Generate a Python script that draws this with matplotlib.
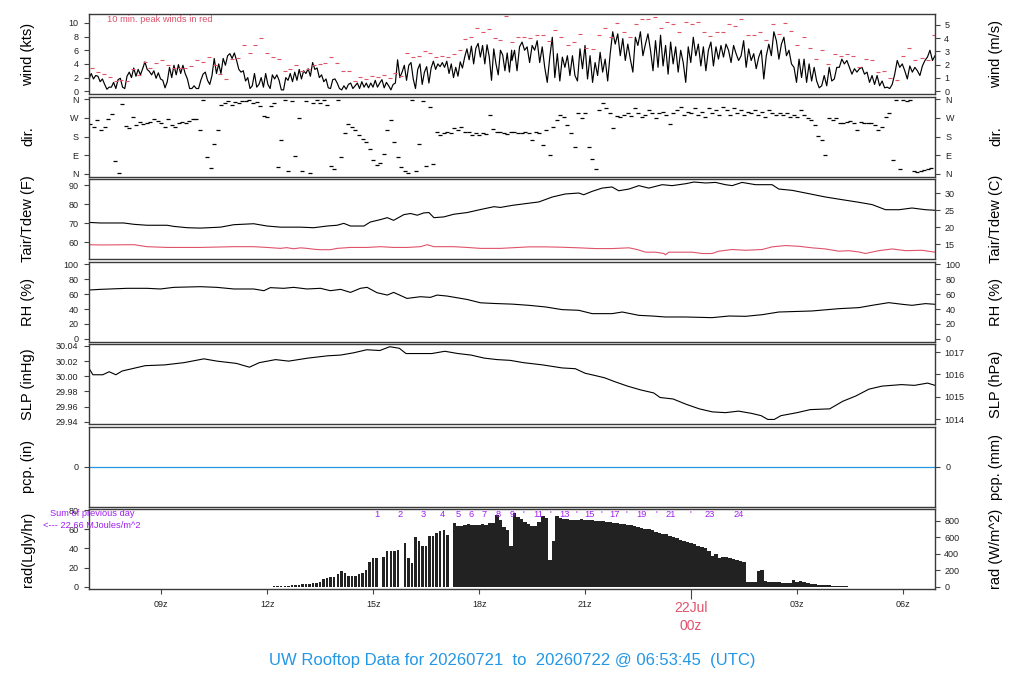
import matplotlib
matplotlib.use("Agg")
import matplotlib.pyplot as plt
import numpy as np

plt.rcParams['font.family'] = ['Liberation Sans', 'DejaVu Sans']

RED = '#DF536B'
BLUE = '#2297E6'
PURPLE = '#A020F0'

# ===== Data (hours since 00z 21 Jul) =====
t_start, t_mid, t_end = 6.96, 18.93, 30.9

# wind speed (kts), evenly spaced readings, 07z-19z and 19z-07z
wind_am = [1.8, 2.6, 1.8, 2.3, 2.2, 1.4, 1.8, 1.0, 0.3, 0.6, 0.6, 1.3, 0.4, 1.7, 1.9, 0.6, 0.4, 2.2, 2.8, 2.0,
           3.4, 2.2, 3.2, 2.4, 3.3, 4.3, 3.2, 2.9, 2.4, 3.0, 1.9, 2.7, 1.8, 1.6, 0.5, 1.4, 3.5, 2.0, 3.8, 2.4,
           3.9, 2.6, 3.8, 2.6, 1.8, 0.4, 0.4, 0.8, 0.4, 0.4, 1.6, 2.5, 2.8, 1.6, 1.0, 2.3, 4.8, 2.6, 4.0, 2.6,
           4.8, 3.8, 5.2, 5.5, 4.8, 5.6, 4.5, 3.2, 2.8, 3.0, 1.5, 2.0, 0.4, 0.8, 2.6, 0.6, 1.0, 2.0, 0.6, 2.6,
           1.0, 0.4, 2.4, 1.8, 2.4, 1.6, 0.2, 0.2, 2.0, 1.6, 2.6, 1.4, 2.8, 1.6, 3.2, 1.8, 3.0, 2.6, 3.3, 2.2,
           4.2, 3.2, 3.4, 2.0, 2.4, 1.4, 1.8, 0.5, 0.4, 1.7, 1.8, 1.2, 0.4, 0.2, 0.8, 0.3, 1.0, 1.2, 0.4, 0.8,
           1.2, 0.4, 1.4, 0.6, 1.2, 0.5, 1.2, 0.6, 1.6, 0.6, 1.2, 1.7, 0.5, 1.3, 0.8, 0.2, 1.0, 1.2, 4.6, 2.0,
           2.8, 3.8, 1.6, 3.8, 4.2, 1.8, 0.4, 3.2, 4.0, 1.0, 2.8, 3.6, 1.2, 3.4, 4.4, 3.2, 4.0, 3.6, 4.2, 3.5,
           4.4, 2.6, 4.0, 2.0, 3.5, 2.2, 4.3, 3.4, 5.0, 6.2, 4.6, 6.6, 4.0, 6.3, 7.0, 5.0, 6.7, 4.0, 6.8, 5.0,
           1.6, 6.2, 4.0, 2.4, 6.0, 5.3, 3.0, 5.6, 2.8, 6.0]
wind_pm = [4.5, 6.0, 3.0, 6.5, 7.2, 6.0, 6.5, 4.2, 6.7, 6.0, 7.4, 4.2, 6.5, 3.5, 1.3, 5.0, 7.9, 2.0, 5.5, 1.5,
           5.0, 3.5, 5.2, 2.3, 5.2, 2.3, 1.5, 6.2, 3.3, 6.7, 1.8, 5.2, 1.3, 4.2, 2.3, 5.7, 2.8, 4.7, 1.5, 5.5,
           8.7, 6.9, 8.4, 5.2, 7.7, 4.5, 6.9, 4.7, 2.8, 7.9, 6.7, 8.7, 5.2, 6.9, 8.4, 6.0, 3.0, 7.4, 3.5, 8.2,
           3.7, 6.7, 2.5, 7.2, 4.0, 6.5, 2.8, 6.0, 4.2, 1.3, 6.5, 4.2, 7.9, 5.2, 6.9, 3.7, 6.5, 3.0, 6.0, 7.2,
           3.7, 6.5, 4.7, 6.7, 5.0, 6.9, 6.0, 4.2, 6.7, 5.5, 4.5, 5.2, 7.4, 3.5, 6.2, 4.5, 5.5, 3.3, 5.0, 6.0,
           1.8, 5.2, 6.9, 5.2, 8.7, 7.4, 4.7, 6.9, 7.9, 5.2, 6.0, 4.0, 3.5, 1.3, 4.7, 2.0, 4.7, 1.3, 4.0, 1.5,
           3.5, 1.5, 0.5, 0.8, 2.3, 0.8, 3.5, 1.5, 1.8, 3.5, 3.5, 4.7, 4.0, 4.5, 3.5, 2.5, 3.3, 2.8, 3.3, 3.5,
           2.5, 2.8, 1.3, 2.3, 1.0, 2.3, 0.8, 1.5, 0.5, 0.6, 0.4, 1.0, 2.5, 4.5, 3.5, 4.0, 3.0, 1.8, 3.7, 2.8,
           3.5, 3.0, 2.3, 3.7, 4.5, 5.0, 6.0, 4.5, 5.2]

# 10 minute peak winds (kts)
peak_am = [3.4, 2.8, 2.5, 2.1, 1.5, 1.6, 1.5, 3.2, 2.4, 4.3, 3.4, 4.1, 4.6, 3.9, 3.4, 3.4, 3.4, 3.7, 4.5, 4.3,
           5.0, 3.9, 2.5, 1.8, 4.7, 4.9, 6.7, 5.6, 6.8, 7.8, 5.6, 5.0, 4.7, 2.9, 3.3, 3.8, 3.0, 3.3, 3.8, 4.0,
           4.2, 5.0, 4.2, 2.9, 2.9, 1.5, 2.1, 1.8, 2.3, 2.1, 2.4, 1.9, 2.6, 2.3, 5.6, 5.0, 5.2, 5.9, 5.6, 5.0,
           5.2, 5.0, 5.5, 6.1, 7.7, 7.9, 9.3, 8.6, 9.1, 7.8, 7.5, 11.0, 7.2]
peak_pm = [7.9, 7.9, 7.8, 8.2, 8.2, 7.4, 9.0, 8.0, 6.7, 7.2, 8.4, 6.3, 6.2, 8.2, 9.3, 8.0, 10.0, 8.6, 8.0, 9.9,
           10.5, 10.5, 10.8, 9.3, 10.1, 9.8, 8.6, 10.1, 9.9, 10.1, 8.7, 8.1, 8.6, 8.6, 9.8, 9.5, 10.5, 8.2, 8.2,
           8.6, 7.5, 9.8, 8.4, 10.0, 8.8, 6.8, 8.0, 6.4, 4.7, 6.1, 4.0, 5.4, 5.2, 5.4, 5.2, 3.5, 4.7, 4.6, 2.8,
           2.9, 1.9, 1.7, 5.2, 6.4, 4.6, 4.9, 4.5, 8.2]

# wind direction (deg), every 6 min from 07z
dir_deg = [240, 228, 262, 212, 225, 265, 290, 62, 4, 335,
           230, 222, 276, 236, 248, 240, 244, 252, 266, 256,
           244, 228, 266, 236, 228, 246, 250, 246, 256, 266,
           265, 212, 358, 80, 30, 145, 210, 333, 342, 349,
           330, 348, 340, 350, 353, 356, 340, 348, 325, 278,
           275, 325, 342, 32, 162, 356, 12, 350, 88, 268,
           12, 350, 3, 342, 356, 340, 355, 330, 40, 24,
           357, 80, 195, 240, 226, 212, 186, 170, 154, 120,
           65, 42, 50, 97, 211, 260, 155, 82, 32, 14,
           6, 357, 12, 146, 349, 40, 322, 48, 203, 188,
           196, 204, 196, 220, 210, 228, 203, 200, 188, 196,
           188, 196, 194, 284, 218, 203, 200, 196, 194, 204,
           200, 195, 198, 203, 195, 165, 203, 198, 138, 210,
           89, 228, 260, 284, 276, 235, 196, 130, 292, 268,
           292, 130, 73, 24, 308, 340, 318, 292, 220, 280,
           276, 286, 292, 278, 316, 292, 276, 284, 308, 292,
           268, 292, 300, 284, 242, 292, 308, 324, 284, 300,
           292, 316, 284, 300, 276, 316, 292, 308, 284, 324,
           308, 284, 316, 292, 308, 284, 300, 292, 310, 284,
           300, 276, 308, 292, 284, 292, 284, 292, 276, 284,
           276, 306, 284, 268, 260, 235, 182, 162, 89, 268,
           260, 268, 244, 246, 252, 256, 246, 212, 250, 246,
           243, 246, 235, 211, 227, 276, 292, 65, 357, 24,
           357, 352, 357, 14, 8, 13, 19, 24, 29]

# air temperature (F)
tair_t = [6.96, 7.28, 7.94, 8.23, 8.60, 9.17, 9.36, 9.74, 10.11, 10.68, 11.06, 11.62, 12.00, 12.38, 12.94,
          13.32, 13.70, 13.98, 14.17, 14.36, 14.74, 14.92, 15.21, 15.40, 15.58, 15.87, 16.06, 16.25, 16.43,
          16.58, 16.72, 17.00, 17.28, 17.66, 18.04, 18.42, 18.60, 18.94, 19.31, 19.69, 20.07, 20.44, 20.82,
          20.96, 21.20, 21.48, 21.76, 21.95, 22.24, 22.52, 22.80, 23.18, 23.46, 23.84, 24.08, 24.41, 24.69,
          24.97, 25.16, 25.44, 25.82, 26.29, 26.48, 26.86, 27.24, 27.80, 28.27, 28.75, 29.12, 29.50, 29.88,
          30.25, 30.63, 30.90]
tair_f = [70.5, 70.2, 70.2, 69.5, 69.0, 69.0, 68.4, 67.7, 67.5, 68.0, 69.3, 69.8, 68.6, 68.0, 68.0,
          67.7, 68.6, 69.0, 70.0, 68.6, 68.6, 70.7, 72.0, 73.0, 71.6, 74.6, 75.2, 74.3, 75.5,
          75.7, 73.0, 73.4, 74.8, 75.7, 77.3, 78.8, 78.4, 79.5, 80.4, 81.3, 83.9, 85.5, 86.0,
          85.1, 86.9, 88.6, 89.2, 87.2, 88.1, 89.9, 88.6, 90.4, 89.9, 90.9, 91.8, 91.3, 91.6,
          90.4, 89.9, 91.6, 90.4, 90.4, 88.1, 87.4, 86.0, 83.9, 82.5, 81.1, 79.9, 77.2, 77.2,
          78.1, 77.2, 76.9]

# dew point (F)
tdew_t = [6.96, 7.28, 8.23, 8.60, 9.17, 10.11, 11.06, 11.62, 12.00, 12.38, 12.55, 12.75, 12.95, 13.13, 13.35,
          13.51, 13.79, 13.98, 14.36, 14.83, 15.21, 15.58, 15.96, 16.34, 16.53, 16.72, 17.28, 17.66, 18.04,
          18.60, 19.41, 19.88, 20.35, 20.82, 21.29, 21.76, 22.24, 22.47, 22.71, 22.99, 23.23, 23.27, 23.37,
          23.65, 24.03, 24.31, 24.59, 24.78, 25.16, 25.54, 26.01, 26.29, 26.67, 27.05, 27.42, 27.80, 28.18,
          28.46, 28.75, 28.93, 29.31, 29.69, 30.07, 30.54, 30.90]
tdew_f = [58.75, 58.6, 58.75, 57.7, 57.3, 57.3, 57.7, 57.7, 57.3, 56.8, 57.2, 56.6, 57.1, 56.8, 56.3,
          56.1, 56.1, 56.8, 57.3, 57.3, 57.7, 57.3, 57.3, 57.7, 58.75, 57.7, 57.7, 57.3, 56.8,
          56.8, 57.6, 57.6, 57.4, 57.1, 56.7, 56.7, 57.1, 56.2, 54.8, 54.8, 54.1, 53.4, 54.8,
          54.8, 54.8, 54.1, 54.1, 55.3, 56.2, 55.8, 56.2, 57.6, 58.3, 57.9, 57.1, 56.5, 55.3,
          55.6, 54.9, 54.1, 55.6, 56.5, 55.6, 55.8, 54.8]

# relative humidity (%)
rh_t = [6.96, 7.28, 8.04, 8.60, 8.98, 9.36, 10.11, 10.58, 11.06, 11.62, 11.91, 12.09, 12.47, 12.75, 13.13,
        13.51, 13.79, 14.08, 14.36, 14.64, 14.83, 15.11, 15.40, 15.58, 15.96, 16.34, 16.62, 16.81, 17.09,
        17.66, 18.04, 18.42, 18.94, 19.41, 19.88, 20.35, 20.82, 21.20, 21.76, 22.05, 22.52, 22.90, 23.27,
        23.84, 24.59, 25.07, 25.54, 26.01, 26.48, 27.42, 28.18, 28.75, 29.12, 29.59, 29.97, 30.25, 30.63,
        30.90]
rh = [65.6, 66.5, 67.9, 67.9, 67.0, 69.2, 70.1, 69.2, 67.0, 67.0, 64.7, 68.8, 67.9, 69.2, 67.0,
      67.9, 64.7, 66.5, 62.4, 67.9, 69.2, 62.0, 58.8, 62.4, 54.3, 56.6, 55.7, 58.8, 57.5,
      52.9, 48.4, 47.5, 46.6, 45.0, 42.8, 39.2, 38.3, 33.8, 33.8, 36.0, 31.5, 30.6, 29.3,
      29.3, 28.4, 30.6, 30.2, 32.4, 36.0, 37.4, 40.5, 41.9, 45.0, 48.6, 46.4, 45.0, 47.3,
      46.4]

# sea level pressure (inHg)
slp_t = [6.98, 7.07, 7.35, 7.53, 7.72, 7.90, 8.18, 8.55, 9.10, 9.65, 10.21, 10.58, 11.13, 11.50, 11.78,
         12.24, 12.61, 13.16, 13.71, 14.08, 14.45, 14.82, 15.19, 15.47, 15.74, 15.93, 16.30, 16.66, 17.03,
         17.40, 17.77, 18.14, 18.51, 18.88, 19.25, 19.80, 20.35, 20.72, 21.00, 21.28, 21.55, 21.83, 22.20,
         22.57, 22.94, 23.12, 23.49, 23.86, 24.23, 24.60, 24.97, 25.34, 25.71, 25.98, 26.17, 26.35, 26.54,
         27.00, 27.37, 27.92, 28.29, 28.66, 29.03, 29.40, 29.95, 30.32, 30.69, 30.90]
slp = [30.009, 30.002, 30.002, 30.006, 30.002, 30.007, 30.010, 30.014, 30.015, 30.018, 30.023, 30.020,
       30.017, 30.012, 30.018, 30.022, 30.020, 30.024, 30.027, 30.028, 30.031, 30.035, 30.034, 30.039,
       30.037, 30.030, 30.030, 30.030, 30.033, 30.030, 30.028, 30.024, 30.022, 30.021, 30.018, 30.015,
       30.011, 30.010, 30.004, 30.001, 29.998, 29.993, 29.987, 29.982, 29.978, 29.972, 29.970, 29.963,
       29.957, 29.953, 29.952, 29.954, 29.951, 29.948, 29.943, 29.943, 29.948, 29.952, 29.956, 29.957,
       29.967, 29.974, 29.983, 29.987, 29.989, 29.988, 29.991, 29.988]

# precipitation (in)
pcp_t = [t_start, t_end]
pcp_in = [0.0, 0.0]

# solar radiation (W/m^2), every 6 min from 12.2z
rad_w = [3, 5, 7, 9, 11, 14, 18, 22,
         27, 31, 35, 38, 42, 60, 98, 108, 116, 122,
         150, 190, 160, 135, 128, 130, 148, 160, 205, 305,
         345, 350, 0, 360, 430, 432, 440, 452, 0, 530,
         350, 290, 600, 550, 500, 490, 615, 612, 650, 672,
         690, 630, 0, 775, 735, 740, 745, 765, 750, 752,
         755, 760, 752, 780, 770, 870, 810, 730, 695, 490,
         900, 850, 820, 790, 760, 740, 738, 790, 860, 840,
         330, 560, 865, 840, 830, 822, 818, 815, 812, 830,
         812, 808, 806, 804, 800, 795, 790, 785, 779, 775,
         768, 760, 752, 745, 738, 730, 720, 707, 697, 685,
         670, 658, 645, 636, 620, 605, 590, 574, 560, 545,
         530, 515, 500, 485, 468, 440, 375, 392, 352, 365,
         355, 348, 338, 325, 315, 300, 60, 60, 58, 195,
         197, 65, 58, 56, 54, 53, 50, 48, 45, 82,
         62, 70, 60, 41, 35, 29, 24, 20, 16, 14,
         12, 11, 10, 8, 5]

# cumulative MJ/m^2 markers
mj_t = [15.12, 15.77, 16.42, 16.96, 17.41, 17.78, 18.15, 18.54, 18.94, 19.24, 19.66, 20.03,
        20.40, 20.76, 21.12, 21.47, 21.83, 22.18, 22.58, 23.01, 23.43, 23.97, 24.53, 25.35]
mj_lab = ['1', '2', '3', '4', '5', '6', '7', '8', '9', "'", '11', "'",
          '13', "'", '15', "'", '17', "'", '19', "'", '21', "'", '23', '24']

KT2MS = 0.514444
LY2W = 11.622
INHG2HPA = 33.8639

# ===== times =====
t_wind = np.concatenate([np.linspace(t_start, t_mid - 0.01, len(wind_am)),
                         np.linspace(t_mid, t_end, len(wind_pm))])
wind = wind_am + wind_pm
t_peak = np.concatenate([np.linspace(7.05, t_mid, len(peak_am)),
                         np.linspace(19.1, 30.87, len(peak_pm))])
peaks = peak_am + peak_pm
t_dir = 7.0 + 0.1 * np.arange(len(dir_deg))
t_rad = 12.2 + 0.1 * np.arange(len(rad_w))

# ===== Layout =====
fig = plt.figure(figsize=(10.24, 7.0), dpi=100)
FW, FH = 1024.0, 700.0
LEFT, RIGHT = 89, 935
TOPS = [14, 96.5, 179, 261.5, 344, 426.5, 509]
PH = 80
TK = dict(direction='out', length=3.6, width=0.8, labelsize=6.5, color='#444444', labelcolor='#222222')


def panel(top):
    ax = fig.add_axes([LEFT / FW, 1 - (top + PH) / FH, (RIGHT - LEFT) / FW, PH / FH])
    ax.set_xlim(t_start, t_end)
    ax.tick_params(axis='x', bottom=False, labelbottom=False)
    ax.tick_params(axis='y', pad=4, **TK)
    for s in ax.spines.values():
        s.set_color('#3a3a3a')
        s.set_linewidth(1.0)
    return ax


def right_axis(ax, lo, hi, ticks):
    axr = ax.twinx()
    axr.set_ylim(lo, hi)
    axr.set_yticks(ticks)
    axr.tick_params(axis='y', pad=3, **TK)
    for s in axr.spines.values():
        s.set_visible(False)
    return axr


def names(ax, left, right):
    ax.text(-0.072, 0.5, left, transform=ax.transAxes, rotation=90, ha='center', va='center', fontsize=10.5)
    ax.text(1.072, 0.5, right, transform=ax.transAxes, rotation=90, ha='center', va='center', fontsize=10.5)


# wind
ax = panel(TOPS[0])
ax.plot(t_wind, wind, color='black', lw=0.85)
ax.plot(t_peak, peaks, ls='none', marker='_', ms=3.5, mew=0.8, color=RED)
ax.set_ylim(-0.4, 11.3)
ax.set_yticks(range(0, 11, 2))
right_axis(ax, -0.4 * KT2MS, 11.3 * KT2MS, range(0, 6))
ax.text(0.021, 0.935, '10 min. peak winds in red', transform=ax.transAxes, color=RED, fontsize=6.7, va='center')
names(ax, 'wind (kts)', 'wind (m/s)')

# direction
ax = panel(TOPS[1])
ax.plot(t_dir, dir_deg, ls='none', marker='_', ms=3.5, mew=0.9, color='black')
ax.set_ylim(-13, 373)
ax.set_yticks([0, 90, 180, 270, 360])
ax.set_yticklabels(['N', 'E', 'S', 'W', 'N'])
ax.tick_params(axis='y', right=True, labelright=True)
names(ax, 'dir.', 'dir.')

# temperature / dew point
ax = panel(TOPS[2])
ax.plot(tair_t, tair_f, color='black', lw=0.8)
ax.plot(tdew_t, tdew_f, color=RED, lw=0.8)
ax.set_ylim(51.2, 93.4)
ax.set_yticks([60, 70, 80, 90])
right_axis(ax, (51.2 - 32) / 1.8, (93.4 - 32) / 1.8, [15, 20, 25, 30])
names(ax, 'Tair/Tdew (F)', 'Tair/Tdew (C)')

# relative humidity
ax = panel(TOPS[3])
ax.plot(rh_t, rh, color='black', lw=0.8)
ax.set_ylim(-3.7, 104)
ax.set_yticks(range(0, 101, 20))
ax.tick_params(axis='y', right=True, labelright=True)
names(ax, 'RH (%)', 'RH (%)')

# pressure
ax = panel(TOPS[4])
ax.plot(slp_t, slp, color='black', lw=0.8)
ax.set_ylim(29.937, 30.0426)
ax.set_yticks([29.94, 29.96, 29.98, 30.00, 30.02, 30.04])
ax.set_yticklabels(['%.2f' % v for v in [29.94, 29.96, 29.98, 30.00, 30.02, 30.04]])
right_axis(ax, 29.937 * INHG2HPA, 30.0426 * INHG2HPA, [1014, 1015, 1016, 1017])
names(ax, 'SLP (inHg)', 'SLP (hPa)')

# precipitation
ax = panel(TOPS[5])
ax.plot(pcp_t, pcp_in, color=BLUE, lw=0.9)
ax.set_ylim(-1, 1)
ax.set_yticks([0])
ax.tick_params(axis='y', right=True, labelright=True)
names(ax, 'pcp. (in)', 'pcp. (mm)')

# radiation
ax = panel(TOPS[6])
ax.set_ylim(-2.5, 81.4)
ax.set_yticks(range(0, 81, 20))
axr = right_axis(ax, -2.5 * LY2W, 81.4 * LY2W, range(0, 801, 200))
bar_w = np.where(t_rad < 17.3, 0.07, 0.1)
axr.bar(t_rad, rad_w, width=bar_w, color='#222222', linewidth=0)
for h, lab in zip(mj_t, mj_lab):
    axr.text(h, 0.93, lab, transform=axr.get_xaxis_transform(), ha='center', va='center',
             fontsize=6.7, color=PURPLE)
names(ax, 'rad(Lgly/hr)', 'rad (W/m^2)')

ax.set_xticks([9, 12, 15, 18, 21, 24, 27, 30])
ax.set_xticklabels(['09z', '12z', '15z', '18z', '21z', '', '03z', '06z'])
ax.tick_params(axis='x', bottom=True, labelbottom=True, pad=4, **TK)
ax.xaxis.get_major_ticks()[5].tick1line.set_markersize(7.2)
ax.annotate('22Jul', xy=(24, 0), xycoords=ax.get_xaxis_transform(), xytext=(0, -13.7),
            textcoords='offset points', ha='center', va='center', fontsize=10, color=RED,
            annotation_clip=False)
ax.annotate('00z', xy=(24, 0), xycoords=ax.get_xaxis_transform(), xytext=(0, -26.6),
            textcoords='offset points', ha='center', va='center', fontsize=10, color=RED,
            annotation_clip=False)

fig.text(92 / FW, 1 - 514 / FH, 'Sum of previous day', ha='center', va='center', fontsize=6.7, color=PURPLE)
fig.text(92 / FW, 1 - 525 / FH, '<--- 22.66 MJoules/m^2', ha='center', va='center', fontsize=6.7, color=PURPLE)

fig.text(0.5, 1 - 660 / FH, 'UW Rooftop Data for 20260721  to  20260722 @ 06:53:45  (UTC)',
         ha='center', va='center', fontsize=12, color=BLUE)

fig.savefig('out.png', dpi=100)
